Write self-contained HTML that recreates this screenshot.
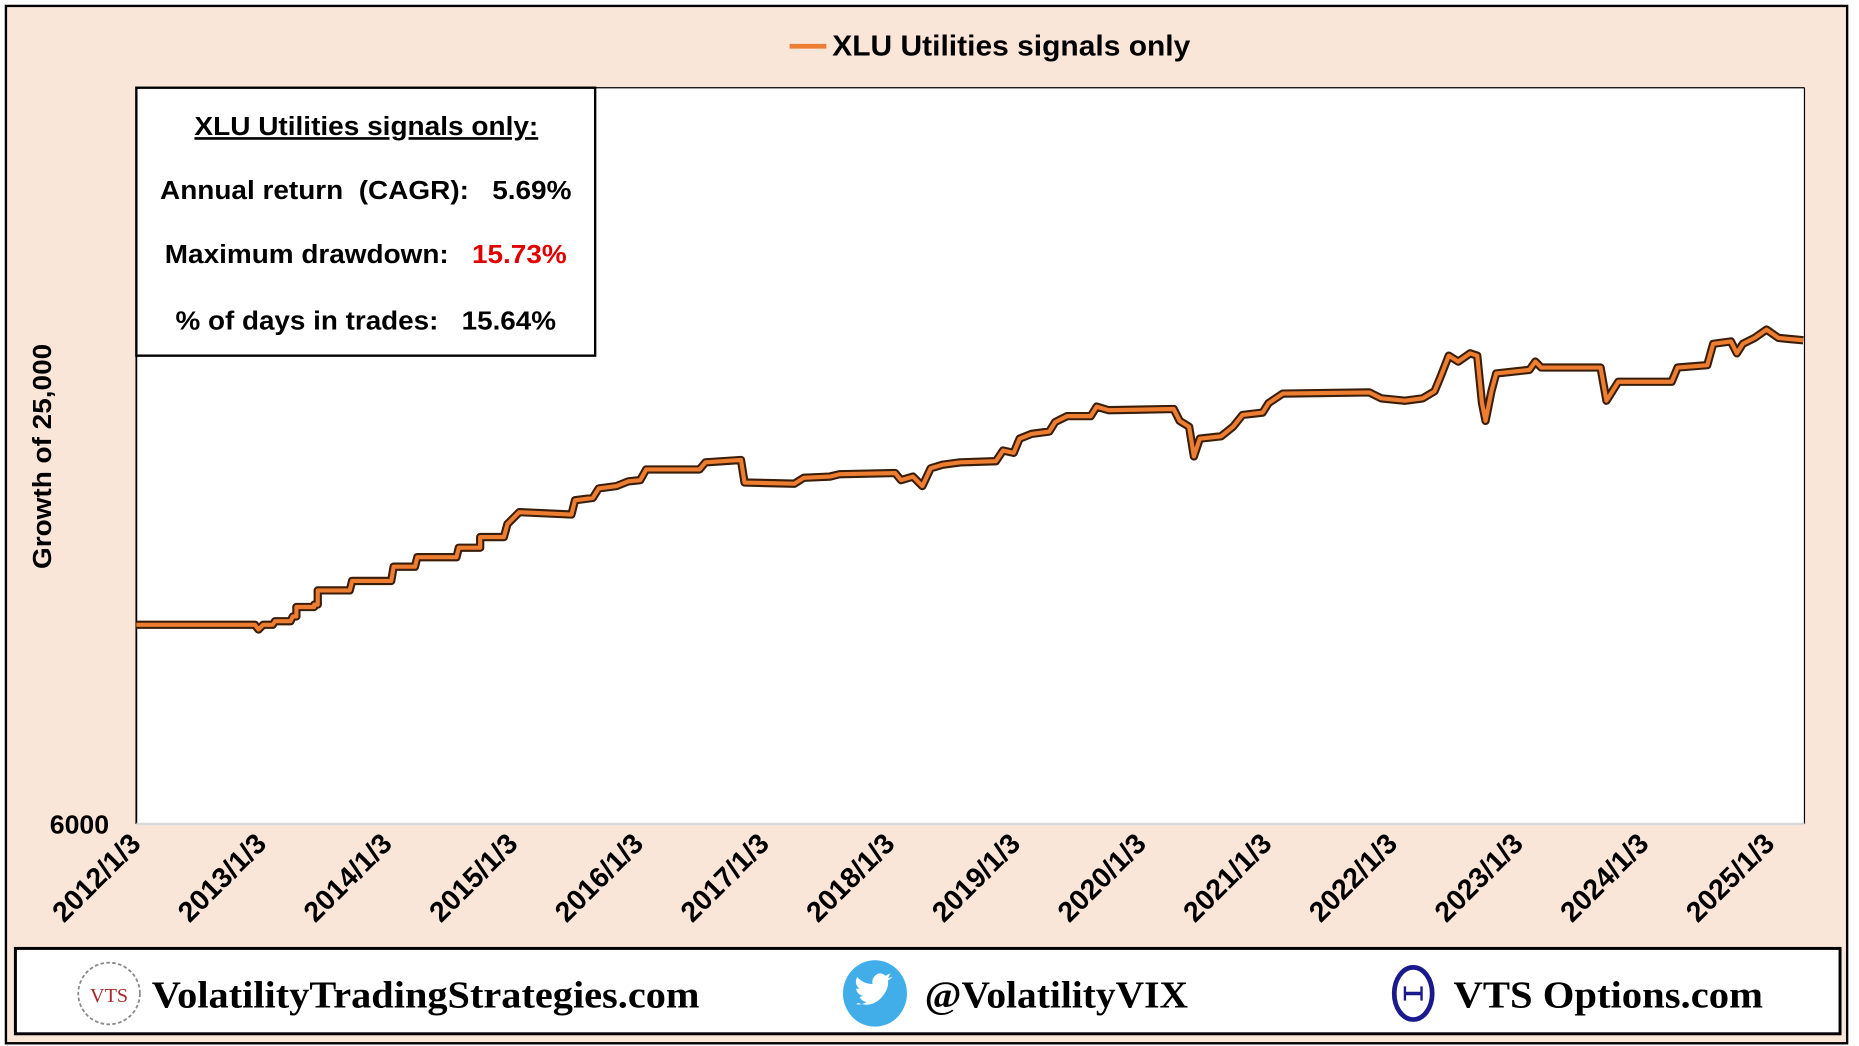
<!DOCTYPE html>
<html><head><meta charset="utf-8"><style>
html,body{margin:0;padding:0;background:#fff;}
svg{display:block;}
text{font-family:"Liberation Sans",sans-serif;font-weight:bold;white-space:pre;}
</style></head><body>
<svg width="1859" height="1046" viewBox="0 0 1568 882.3" preserveAspectRatio="none">
<rect x="0" y="0" width="1568" height="882.3" fill="#fff"/>
<rect x="5" y="5" width="1553" height="875" fill="#FAE5D9" stroke="#000" stroke-width="2"/>
<line x1="666" y1="39" x2="697" y2="39" stroke="#ED7D31" stroke-width="4"/>
<text x="702" y="47" font-size="24" fill="#000" textLength="302" lengthAdjust="spacingAndGlyphs">XLU Utilities signals only</text>
<rect x="115" y="74" width="1407" height="621" fill="#fff"/>
<line x1="115" y1="74" x2="115" y2="695" stroke="#000" stroke-width="1.5"/>
<line x1="1522" y1="74" x2="1522" y2="695" stroke="#000" stroke-width="1"/>
<line x1="115" y1="74" x2="1522" y2="74" stroke="#000" stroke-width="1"/>
<line x1="115" y1="695" x2="1522" y2="695" stroke="#d9d9d9" stroke-width="2"/>
<g fill="none" stroke-linejoin="round">
<polyline stroke="#3a1e0a" stroke-width="7" points="115,527 215,527 218,531 222,527 230,527 232,524 245,524 247,520 250,520 250,512 265,512 265,510 268,510 268,498 295,498 297,490 330,490 332,478 350,478 352,470 385,470 387,462 405,462 405,453 425,453 428,442 438,432 482,434 485,422 500,420 505,412 520,410 530,406 540,405 545,396 590,396 595,390 625,388 628,407 670,408 678,403 700,402 708,400 755,399 760,405 770,402 778,410 785,395 795,392 810,390 840,389 846,380 855,382 860,370 870,366 885,364 890,356 900,351 920,351 925,343 935,346 990,345 995,355 1003,360 1007,385 1012,370 1030,368 1040,360 1048,350 1065,348 1070,340 1082,332 1155,331 1165,336 1185,338 1200,336 1210,330 1215,318 1222,300 1230,305 1240,298 1246,300 1250,340 1253,355 1258,330 1262,315 1290,312 1295,305 1300,310 1350,310 1355,338 1365,322 1410,322 1415,310 1440,308 1445,290 1460,288 1465,298 1470,290 1480,285 1490,278 1500,285 1510,286 1521,287"/>
<polyline stroke="#ED7D31" stroke-width="3.5" points="115,527 215,527 218,531 222,527 230,527 232,524 245,524 247,520 250,520 250,512 265,512 265,510 268,510 268,498 295,498 297,490 330,490 332,478 350,478 352,470 385,470 387,462 405,462 405,453 425,453 428,442 438,432 482,434 485,422 500,420 505,412 520,410 530,406 540,405 545,396 590,396 595,390 625,388 628,407 670,408 678,403 700,402 708,400 755,399 760,405 770,402 778,410 785,395 795,392 810,390 840,389 846,380 855,382 860,370 870,366 885,364 890,356 900,351 920,351 925,343 935,346 990,345 995,355 1003,360 1007,385 1012,370 1030,368 1040,360 1048,350 1065,348 1070,340 1082,332 1155,331 1165,336 1185,338 1200,336 1210,330 1215,318 1222,300 1230,305 1240,298 1246,300 1250,340 1253,355 1258,330 1262,315 1290,312 1295,305 1300,310 1350,310 1355,338 1365,322 1410,322 1415,310 1440,308 1445,290 1460,288 1465,298 1470,290 1480,285 1490,278 1500,285 1510,286 1521,287"/>
</g>
<rect x="115" y="74" width="387" height="226" fill="#fff" stroke="#000" stroke-width="2"/>
<g font-size="22" fill="#000">
<text x="164" y="114" text-decoration="underline" textLength="290" lengthAdjust="spacingAndGlyphs">XLU Utilities signals only:</text>
<text x="135" y="168" textLength="347" lengthAdjust="spacingAndGlyphs">Annual return  (CAGR):   5.69%</text>
<text x="139" y="222" textLength="339" lengthAdjust="spacingAndGlyphs">Maximum drawdown:   <tspan fill="#E00000">15.73%</tspan></text>
<text x="148" y="278" textLength="321" lengthAdjust="spacingAndGlyphs">% of days in trades:   15.64%</text>
</g>
<text transform="translate(43,385) rotate(-90)" font-size="22" text-anchor="middle" textLength="190" lengthAdjust="spacingAndGlyphs">Growth of 25,000</text>
<text x="92" y="703" font-size="22" text-anchor="end" textLength="50" lengthAdjust="spacingAndGlyphs">6000</text>
<g font-size="24" text-anchor="end">
<text transform="translate(120,713) rotate(-45)">2012/1/3</text>
<text transform="translate(226,713) rotate(-45)">2013/1/3</text>
<text transform="translate(332,713) rotate(-45)">2014/1/3</text>
<text transform="translate(438,713) rotate(-45)">2015/1/3</text>
<text transform="translate(544,713) rotate(-45)">2016/1/3</text>
<text transform="translate(650,713) rotate(-45)">2017/1/3</text>
<text transform="translate(756,713) rotate(-45)">2018/1/3</text>
<text transform="translate(862,713) rotate(-45)">2019/1/3</text>
<text transform="translate(968,713) rotate(-45)">2020/1/3</text>
<text transform="translate(1074,713) rotate(-45)">2021/1/3</text>
<text transform="translate(1180,713) rotate(-45)">2022/1/3</text>
<text transform="translate(1286,713) rotate(-45)">2023/1/3</text>
<text transform="translate(1392,713) rotate(-45)">2024/1/3</text>
<text transform="translate(1498,713) rotate(-45)">2025/1/3</text>
</g>
<rect x="13" y="800" width="1539" height="72" fill="#fff" stroke="#000" stroke-width="2.5"/>
<circle cx="92" cy="838" r="26" fill="#fff" stroke="#888" stroke-width="1.5" stroke-dasharray="3,2"/>
<text x="92" y="845" font-size="17" text-anchor="middle" fill="#A52A2A" style="font-family:'Liberation Serif',serif;font-weight:normal">VTS</text>
<text x="128" y="850" font-size="32" fill="#000" textLength="462" lengthAdjust="spacingAndGlyphs" style="font-family:'Liberation Serif',serif">VolatilityTradingStrategies.com</text>
<ellipse cx="738" cy="838" rx="27" ry="28" fill="#41AEEA"/>
<path d="M724,846 q10,4 18,-3 q8,-8 7,-16 l4,-3 l-4,1 l2,-4 l-4,2 q-5,-4 -9,0 q-3,3 -2,7 q-8,0 -13,-6 q-3,6 2,10 l-3,0 q1,5 6,6 l-3,1 q2,4 6,4 q-4,3 -9,2z" fill="#fff"/>
<text x="780" y="850" font-size="32" fill="#000" textLength="222" lengthAdjust="spacingAndGlyphs" style="font-family:'Liberation Serif',serif">@VolatilityVIX</text>
<ellipse cx="1192" cy="838" rx="16" ry="22" fill="#fff" stroke="#1A1A8C" stroke-width="4"/>
<line x1="1185" y1="838" x2="1199" y2="838" stroke="#1A1A8C" stroke-width="3"/>
<line x1="1185" y1="832" x2="1185" y2="844" stroke="#1A1A8C" stroke-width="2"/>
<line x1="1199" y1="832" x2="1199" y2="844" stroke="#1A1A8C" stroke-width="2"/>
<text x="1226" y="850" font-size="32" fill="#000" textLength="261" lengthAdjust="spacingAndGlyphs" style="font-family:'Liberation Serif',serif">VTS Options.com</text>
</svg>
</body></html>
